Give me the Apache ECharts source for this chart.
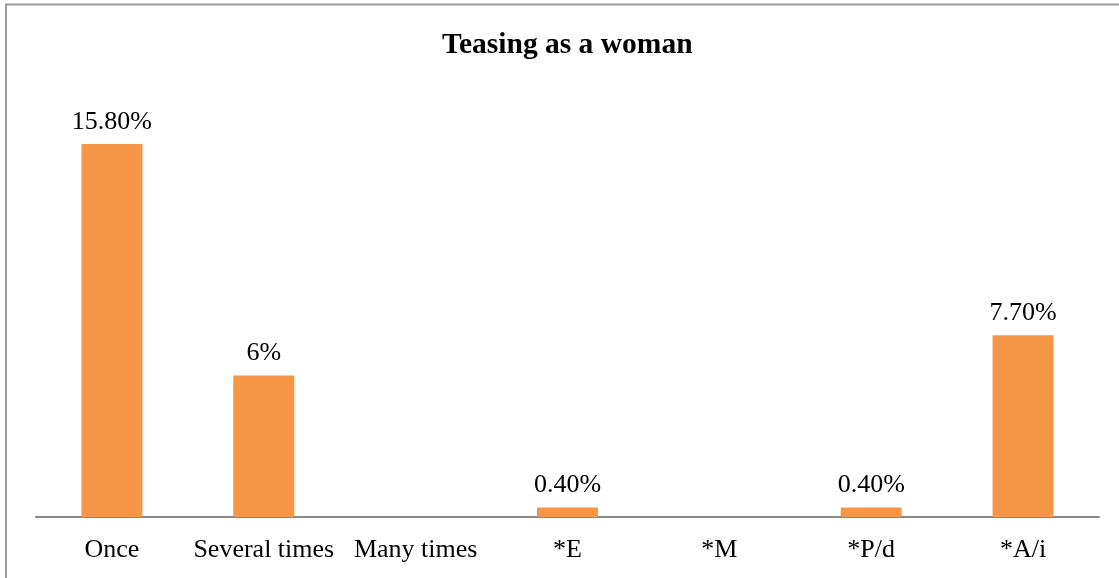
<!DOCTYPE html>
<html>
<head>
<meta charset="utf-8">
<script src="https://cdn.jsdelivr.net/npm/echarts@6/dist/echarts.min.js"></script>
<style>
  html, body { margin: 0; padding: 0; background: #fff; }
  #chart { width: 1119px; height: 578px; }
</style>
</head>
<body>
<div id="chart"></div>
<script>
var categories = ['Once', 'Several times', 'Many times', '*E', '*M', '*P/d', '*A/i'];
var values = [15.8, 6, 0, 0.4, 0, 0.4, 7.7];
var valueLabels = ['15.80%', '6%', '', '0.40%', '', '0.40%', '7.70%'];

var chart = echarts.init(document.getElementById('chart'));

var option = {
  backgroundColor: '#fff',
  animation: false,
  title: {
    text: 'Teasing as a woman',
    left: 437,
    top: 25,
    textStyle: {
      fontFamily: 'Liberation Serif',
      fontWeight: 'bold',
      fontSize: 29.5,
      color: '#000'
    }
  },
  // frame round the picture (top and left edges only are visible)
  graphic: [{
    type: 'polyline',
    silent: true,
    shape: { points: [[6, 578], [6, 4.5], [1119, 4.5]] },
    style: { stroke: '#999', lineWidth: 2, fill: null }
  }],
  grid: {
    left: 36,
    right: 20,
    top: 45,
    bottom: 61
  },
  xAxis: {
    type: 'category',
    data: categories,
    axisLine: { lineStyle: { color: '#888', width: 2 } },
    axisTick: { show: false },
    axisLabel: {
      interval: 0,
      margin: 20,
      fontFamily: 'Liberation Serif',
      fontSize: 26,
      color: '#000'
    }
  },
  yAxis: {
    type: 'value',
    min: 0,
    max: 20,
    show: false,
    splitLine: { show: false }
  },
  series: [{
    type: 'bar',
    data: values,
    barWidth: 61,
    itemStyle: { color: '#F79646' },
    label: {
      show: true,
      position: 'top',
      distance: 9,
      fontFamily: 'Liberation Serif',
      fontSize: 26,
      color: '#000',
      formatter: function (p) {
        return valueLabels[p.dataIndex];
      }
    }
  }]
};

chart.setOption(option);
</script>
</body>
</html>
